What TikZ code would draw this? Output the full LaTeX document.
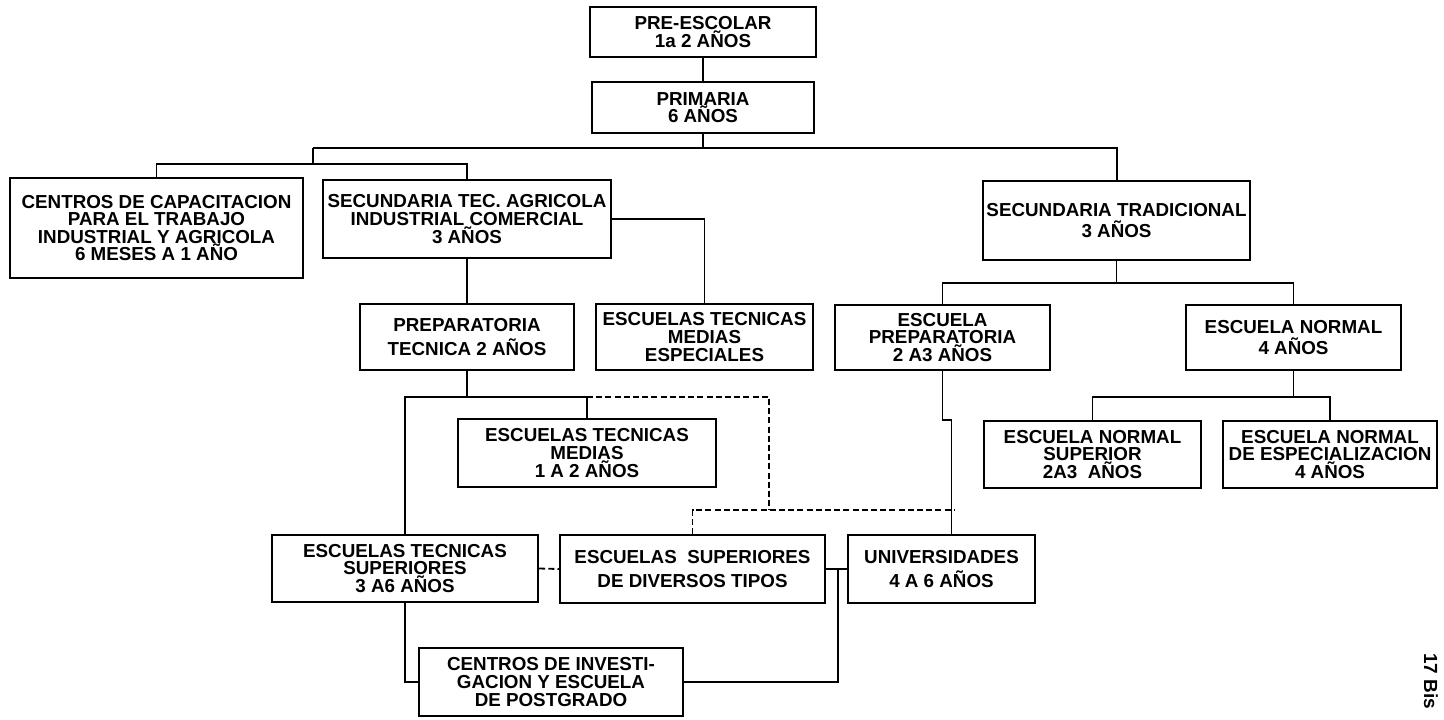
\documentclass[tikz,border=0pt]{standalone}
\usepackage{fontspec}
\setmainfont{Liberation Sans}
\newcommand\mkbox[6]{\node[box, minimum width={(#4-#2)*0.5pt}, minimum height={(#5-#3)*0.5pt}] (#1) at ({(#2+#4)/2},{(#3+#5)/2}) {#6};}
\begin{document}
\begin{tikzpicture}[x=0.5pt,y=-0.5pt,
  box/.style={draw, line width=1.1pt, inner sep=0pt, align=center, font=\bfseries\fontsize{9.4}{8.8}\selectfont},
  conn/.style={line width=0.9pt},
  dconn/.style={line width=0.9pt, dash pattern=on 3pt off 1.6pt}]
\useasboundingbox (0,0) rectangle (1444,719);
\fill[white] (0,0) rectangle (1444,719);

\mkbox{pre}{590}{7}{816}{57}{PRE-ESCOLAR\\1a 2 AÑOS}
\mkbox{prim}{592}{82}{814}{133}{PRIMARIA\\6 AÑOS}
\mkbox{centros}{10}{178}{303}{278}{CENTROS DE CAPACITACION\\PARA EL TRABAJO\\INDUSTRIAL Y AGRICOLA\\6 MESES A 1 AÑO}
\mkbox{sectec}{323}{180}{611}{258}{SECUNDARIA TEC. AGRICOLA\\INDUSTRIAL COMERCIAL\\3 AÑOS}
\mkbox{sectrad}{983}{181}{1250}{260}{SECUNDARIA TRADICIONAL\\[2pt]3 AÑOS}
\mkbox{preptec}{360}{304}{574}{370}{PREPARATORIA\\[3pt]TECNICA 2 AÑOS}
\mkbox{etme}{596}{304}{813}{370}{ESCUELAS TECNICAS\\MEDIAS\\ESPECIALES}
\mkbox{escprep}{835}{305}{1050}{370}{ESCUELA\\PREPARATORIA\\2 A3 AÑOS}
\mkbox{escnorm}{1186}{305}{1401}{370}{ESCUELA NORMAL\\[2pt]4 AÑOS}
\mkbox{etm}{458}{419}{716}{487}{ESCUELAS TECNICAS\\MEDIAS\\1 A 2 AÑOS}
\mkbox{ens}{984}{421}{1201}{488}{ESCUELA NORMAL\\SUPERIOR\\2A3 \ AÑOS}
\mkbox{ene}{1223}{421}{1437}{488}{ESCUELA NORMAL\\DE ESPECIALIZACION\\4 AÑOS}
\mkbox{ets}{272}{535}{538}{602}{ESCUELAS TECNICAS\\SUPERIORES\\3 A6 AÑOS}
\mkbox{esdt}{560}{535}{825}{603}{ESCUELAS \ SUPERIORES\\[3pt]DE DIVERSOS TIPOS}
\mkbox{univ}{848}{535}{1035}{603}{UNIVERSIDADES\\[3pt]4 A 6 AÑOS}
\mkbox{cieg}{419}{648}{683}{716}{CENTROS DE INVESTI-\\GACION Y ESCUELA\\DE POSTGRADO}

\node[rotate=-90, anchor=west, inner sep=0pt, font=\bfseries\fontsize{9.5}{10}\selectfont] (pg) at (1431,653) {17 Bis};

% main bus
\coordinate (b1) at (703,148);
\coordinate (bL) at (313,148);
\coordinate (bR) at (1117,148);
\coordinate (sL) at (313,164);
\draw[conn] (pre.south) -- (prim.north);
\draw[conn] (prim.south) -- (prim.south |- b1);
\draw[conn] (bL) -- (bR) -- (bR |- sectrad.north);
\draw[conn] (bL) -- (sL);
\draw[conn] (centros.north) |- (sL) -| (sectec.north);
% secundaria tecnica
\draw[conn] (sectec.east) -| (etme.north);
\draw[conn] (sectec.south) -- (preptec.north);
% preparatoria tecnica
\coordinate (hL) at (405,397);
\coordinate (hM) at (587,397);
\coordinate (hR) at (769,397);
\coordinate (hD) at (769,510);
\coordinate (d2) at (954,510);
\draw[conn] (preptec.south) -- (preptec.south |- hL);
\draw[conn] (ets.north) |- (hM) -- (etm.north);
\draw[dconn] (hM) -- (hR) -- (hD);
\draw[dconn] (esdt.north) |- (d2);
\draw[dconn] (ets.east) -- (esdt.west);
% universidades
\path (escprep.south) ++(0,49) coordinate (u1) ++(9,0) coordinate (u2);
\draw[conn] (escprep.south) -- (u1) -- (u2) -- (u2 |- univ.north);
\draw[conn] (esdt.east) -- (univ.west);
\coordinate (j1) at (838,569);
\draw[conn] (cieg.east) -| (j1);
\draw[conn] (ets.south) |- (cieg.west);
% secundaria tradicional
\coordinate (t1) at (1117,283);
\draw[conn] (sectrad.south) -- (sectrad.south |- t1);
\draw[conn] (escprep.north) |- (t1) -| (escnorm.north);
\coordinate (n1) at (1293,397);
\draw[conn] (escnorm.south) -- (escnorm.south |- n1);
\draw[conn] (ens.north) |- (n1) -| (ene.north);
\end{tikzpicture}
\end{document}
